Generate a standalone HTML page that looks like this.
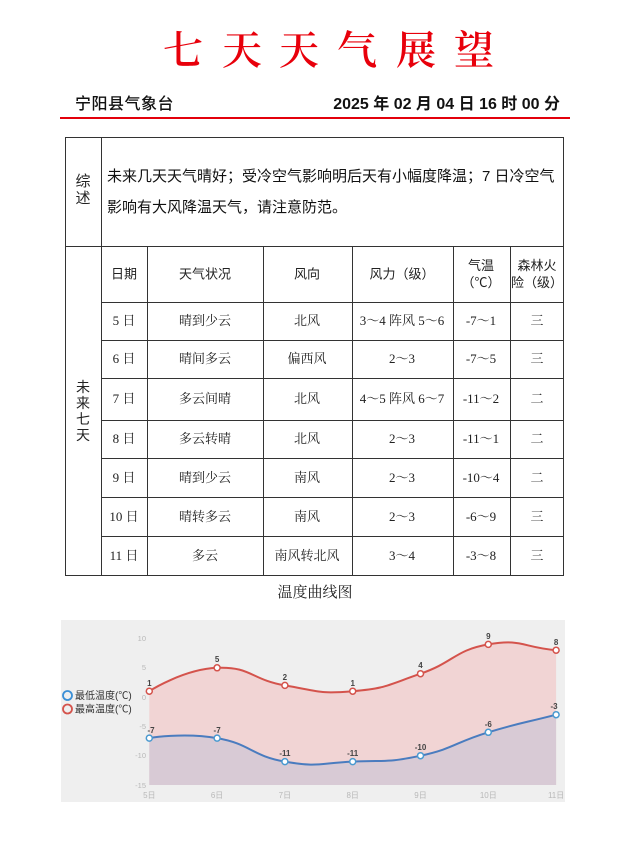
<!DOCTYPE html>
<html><head><meta charset="utf-8">
<style>
html,body{margin:0;padding:0;background:#fff;}
#pg{position:relative;width:632px;height:842px;overflow:hidden;background:#fff;}
.c{position:absolute;transform:translate(-50%,-50%);white-space:nowrap;}
.t{position:absolute;color:#e8000b;font-family:"Liberation Serif","Noto Serif CJK SC",serif;font-weight:600;font-size:40px;line-height:40px;transform:translate(-50%,-50%);}
.h{position:absolute;background:#333;height:1px;}
.v{position:absolute;background:#333;width:1px;}
.d{font-family:"Liberation Serif","Noto Serif CJK SC",serif;font-size:13px;color:#222;line-height:16px;text-align:center;}
.hd{font-family:"Liberation Sans","Noto Sans CJK SC",sans-serif;font-size:13px;color:#222;line-height:17px;text-align:center;}
</style></head>
<body><div id="pg">
<div class="t" style="left:183px;top:51px">七</div>
<div class="t" style="left:242px;top:51px">天</div>
<div class="t" style="left:299px;top:51px">天</div>
<div class="t" style="left:357px;top:51px">气</div>
<div class="t" style="left:416px;top:51px">展</div>
<div class="t" style="left:474px;top:51px">望</div>

<div style="position:absolute;left:75px;top:95px;font-family:'Liberation Sans','Noto Sans CJK SC',sans-serif;font-size:16px;font-weight:500;line-height:20px;color:#111;letter-spacing:0.5px">宁阳县气象台</div>
<div style="position:absolute;right:72px;top:95px;font-family:'Liberation Sans','Noto Sans CJK SC',sans-serif;font-size:16px;font-weight:bold;line-height:20px;color:#111;">2025 年 02 月 04 日 16 时 00 分</div>
<div style="position:absolute;left:60px;top:117px;width:510px;height:2px;background:#e3000b"></div>

<!-- table lines -->
<div class="h" style="left:65px;top:137px;width:499px"></div>
<div class="h" style="left:65px;top:246px;width:499px"></div>
<div class="h" style="left:101px;top:302px;width:463px"></div>
<div class="h" style="left:101px;top:340px;width:463px"></div>
<div class="h" style="left:101px;top:378px;width:463px"></div>
<div class="h" style="left:101px;top:420px;width:463px"></div>
<div class="h" style="left:101px;top:458px;width:463px"></div>
<div class="h" style="left:101px;top:497px;width:463px"></div>
<div class="h" style="left:101px;top:536px;width:463px"></div>
<div class="h" style="left:65px;top:575px;width:499px"></div>
<div class="v" style="left:65px;top:137px;height:439px"></div>
<div class="v" style="left:101px;top:137px;height:439px"></div>
<div class="v" style="left:563px;top:137px;height:439px"></div>
<div class="v" style="left:147px;top:246px;height:330px"></div>
<div class="v" style="left:263px;top:246px;height:330px"></div>
<div class="v" style="left:352px;top:246px;height:330px"></div>
<div class="v" style="left:453px;top:246px;height:330px"></div>
<div class="v" style="left:510px;top:246px;height:330px"></div>

<div class="c hd" style="left:83px;top:190px;font-size:15px;line-height:17px">综<br>述</div>
<div style="position:absolute;left:107px;top:161px;width:455px;font-family:'Liberation Sans','Noto Sans CJK SC',sans-serif;font-size:15px;line-height:31px;color:#111;">未来几天天气晴好；受冷空气影响明后天有小幅度降温；7 日冷空气<br>影响有大风降温天气，请注意防范。</div>
<div class="c hd" style="left:83px;top:411px;font-size:14px;line-height:16px">未<br>来<br>七<br>天</div>

<div class="c hd" style="left:124px;top:274px">日期</div>
<div class="c hd" style="left:205px;top:274px">天气状况</div>
<div class="c hd" style="left:307px;top:274px">风向</div>
<div class="c hd" style="left:402px;top:274px">风力（级）</div>
<div class="c hd" style="left:481px;top:274px">气温<br>（℃）</div>
<div class="c hd" style="left:537px;top:274px">森林火<br>险（级）</div>

<div class="c d" style="left:124px;top:321px">5 日</div><div class="c d" style="left:205px;top:321px">晴到少云</div><div class="c d" style="left:307px;top:321px">北风</div><div class="c d" style="left:402px;top:321px">3～4 阵风 5～6</div><div class="c d" style="left:481px;top:321px">-7～1</div><div class="c d" style="left:537px;top:321px">三</div>
<div class="c d" style="left:124px;top:359px">6 日</div><div class="c d" style="left:205px;top:359px">晴间多云</div><div class="c d" style="left:307px;top:359px">偏西风</div><div class="c d" style="left:402px;top:359px">2～3</div><div class="c d" style="left:481px;top:359px">-7～5</div><div class="c d" style="left:537px;top:359px">三</div>
<div class="c d" style="left:124px;top:399px">7 日</div><div class="c d" style="left:205px;top:399px">多云间晴</div><div class="c d" style="left:307px;top:399px">北风</div><div class="c d" style="left:402px;top:399px">4～5 阵风 6～7</div><div class="c d" style="left:481px;top:399px">-11～2</div><div class="c d" style="left:537px;top:399px">二</div>
<div class="c d" style="left:124px;top:439px">8 日</div><div class="c d" style="left:205px;top:439px">多云转晴</div><div class="c d" style="left:307px;top:439px">北风</div><div class="c d" style="left:402px;top:439px">2～3</div><div class="c d" style="left:481px;top:439px">-11～1</div><div class="c d" style="left:537px;top:439px">二</div>
<div class="c d" style="left:124px;top:478px">9 日</div><div class="c d" style="left:205px;top:478px">晴到少云</div><div class="c d" style="left:307px;top:478px">南风</div><div class="c d" style="left:402px;top:478px">2～3</div><div class="c d" style="left:481px;top:478px">-10～4</div><div class="c d" style="left:537px;top:478px">二</div>
<div class="c d" style="left:124px;top:517px">10 日</div><div class="c d" style="left:205px;top:517px">晴转多云</div><div class="c d" style="left:307px;top:517px">南风</div><div class="c d" style="left:402px;top:517px">2～3</div><div class="c d" style="left:481px;top:517px">-6～9</div><div class="c d" style="left:537px;top:517px">三</div>
<div class="c d" style="left:124px;top:556px">11 日</div><div class="c d" style="left:205px;top:556px">多云</div><div class="c d" style="left:307px;top:556px">南风转北风</div><div class="c d" style="left:402px;top:556px">3～4</div><div class="c d" style="left:481px;top:556px">-3～8</div><div class="c d" style="left:537px;top:556px">三</div>

<div class="c d" style="left:315px;top:593px;font-size:15px">温度曲线图</div>

<svg style="position:absolute;left:0;top:610px" width="632" height="200" viewBox="0 610 632 200">
<rect x="61" y="620" width="504" height="182" fill="#efefef"/>
<g font-family="Liberation Sans, Noto Sans CJK SC, sans-serif" font-size="7.5" fill="#b8b8b8" text-anchor="end">
<text x="146" y="641">10</text><text x="146" y="670">5</text><text x="146" y="700">0</text><text x="146" y="729">-5</text><text x="146" y="758">-10</text><text x="146" y="788">-15</text>
</g>
<g font-family="Liberation Sans, Noto Sans CJK SC, sans-serif" font-size="8" fill="#b8b8b8" text-anchor="middle">
<text x="149.3" y="798">5日</text><text x="217.1" y="798">6日</text><text x="284.9" y="798">7日</text><text x="352.7" y="798">8日</text><text x="420.5" y="798">9日</text><text x="488.3" y="798">10日</text><text x="556.1" y="798">11日</text>
</g>
<path d="M149.3,691.2 C149.3,691.2 183.2,669.25 217.1,667.8 C251.0,666.35 251.0,679.55 284.9,685.4 C318.8,691.25 318.8,694.1 352.7,691.2 C386.6,688.3 386.6,685.4 420.5,673.7 C454.4,662.0 454.4,650.3 488.3,644.4 C522.2,638.5 522.2,647.3 556.1,650.2 L556.1,785 L149.3,785 Z" fill="#f1d4d4"/>
<path d="M149.3,738.1 C149.3,738.1 183.2,732.2 217.1,738.1 C251.0,744.0 251.0,755.7 284.9,761.6 C318.8,767.5 318.8,763.1 352.7,761.6 C386.6,760.1 386.6,763.0 420.5,755.7 C454.4,748.4 454.4,742.55 488.3,732.3 C522.2,722.05 522.2,723.5 556.1,714.7 L556.1,785 L149.3,785 Z" fill="#d8cad5"/>
<path d="M149.3,691.2 C149.3,691.2 183.2,669.25 217.1,667.8 C251.0,666.35 251.0,679.55 284.9,685.4 C318.8,691.25 318.8,694.1 352.7,691.2 C386.6,688.3 386.6,685.4 420.5,673.7 C454.4,662.0 454.4,650.3 488.3,644.4 C522.2,638.5 522.2,647.3 556.1,650.2" fill="none" stroke="#d4534c" stroke-width="2"/>
<path d="M149.3,738.1 C149.3,738.1 183.2,732.2 217.1,738.1 C251.0,744.0 251.0,755.7 284.9,761.6 C318.8,767.5 318.8,763.1 352.7,761.6 C386.6,760.1 386.6,763.0 420.5,755.7 C454.4,748.4 454.4,742.55 488.3,732.3 C522.2,722.05 522.2,723.5 556.1,714.7" fill="none" stroke="#4a7cbf" stroke-width="2"/>
<g fill="#fff" stroke="#d4534c" stroke-width="1.5">
<circle cx="149.3" cy="691.2" r="3"/><circle cx="217.1" cy="667.8" r="3"/><circle cx="284.9" cy="685.4" r="3"/><circle cx="352.7" cy="691.2" r="3"/><circle cx="420.5" cy="673.7" r="3"/><circle cx="488.3" cy="644.4" r="3"/><circle cx="556.1" cy="650.2" r="3"/>
</g>
<g fill="#fff" stroke="#4a9ad0" stroke-width="1.5">
<circle cx="149.3" cy="738.1" r="3"/><circle cx="217.1" cy="738.1" r="3"/><circle cx="284.9" cy="761.6" r="3"/><circle cx="352.7" cy="761.6" r="3"/><circle cx="420.5" cy="755.7" r="3"/><circle cx="488.3" cy="732.3" r="3"/><circle cx="556.1" cy="714.7" r="3"/>
</g>
<g font-family="Liberation Sans, sans-serif" font-size="8" font-weight="bold" fill="#444" text-anchor="middle">
<text x="149.3" y="686">1</text><text x="217.1" y="662">5</text><text x="284.9" y="680">2</text><text x="352.7" y="686">1</text><text x="420.5" y="668">4</text><text x="488.3" y="639">9</text><text x="556.1" y="645">8</text>
<text x="151" y="733">-7</text><text x="217.1" y="733">-7</text><text x="284.9" y="756">-11</text><text x="352.7" y="756">-11</text><text x="420.5" y="750">-10</text><text x="488.3" y="727">-6</text><text x="554" y="709">-3</text>
</g>
<circle cx="67.5" cy="695.5" r="4.5" fill="none" stroke="#3b8fd6" stroke-width="1.8"/>
<circle cx="67.5" cy="709" r="4.5" fill="none" stroke="#d4534c" stroke-width="1.8"/>
<g font-family="Liberation Sans, Noto Sans CJK SC, sans-serif" font-size="10" fill="#333">
<text x="75" y="699">最低温度(℃)</text>
<text x="75" y="712.5">最高温度(℃)</text>
</g>
</svg>
</div></body></html>
